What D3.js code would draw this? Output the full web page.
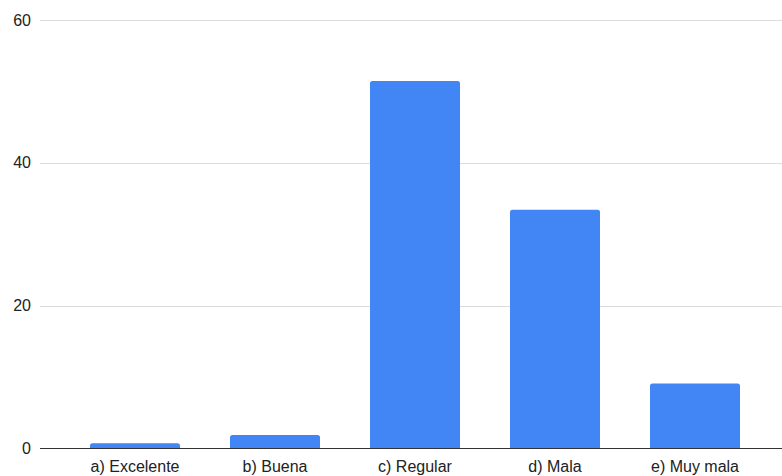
<!DOCTYPE html>
<html>
<head>
<meta charset="utf-8">
<script src="https://cdn.jsdelivr.net/npm/d3@7"></script>
<style>
  html, body { margin: 0; padding: 0; background: #fff; }
  svg { display: block; }
  text { font-family: "Liberation Sans", Arial, sans-serif; }
</style>
</head>
<body>
<svg id="chart" width="782" height="476"></svg>
<script>
const categories = ["a) Excelente", "b) Buena", "c) Regular", "d) Mala", "e) Muy mala"];
const values = [0.7, 1.85, 51.5, 33.45, 9.1];
const yTicks = [0, 20, 40, 60];

const W = 782, H = 476;
const svg = d3.select("#chart");

const x = d3.scaleBand().domain(categories).range([65, 765]).paddingInner(0.357).paddingOuter(0.1785);
const y = d3.scaleLinear().domain([0, 60]).range([448.3, 20.3]);

// gridlines
svg.append("g").selectAll("line").data(yTicks.filter(d => d !== 0)).join("line")
  .attr("x1", 40).attr("x2", W)
  .attr("y1", d => Math.round(y(d)) + 0.5).attr("y2", d => Math.round(y(d)) + 0.5)
  .attr("stroke", "#dcdcdc").attr("stroke-width", 1);

// y labels
svg.append("g").selectAll("text").data(yTicks).join("text")
  .attr("x", 31).attr("y", d => y(d))
  .attr("text-anchor", "end").attr("dominant-baseline", "central")
  .attr("font-size", 16).attr("fill", "#222")
  .text(d => d);

// bars with rounded top corners
const r = 2.5;
svg.append("g").selectAll("path").data(categories).join("path")
  .attr("fill", "#4285F4")
  .attr("d", (c, i) => {
    const x0 = x(c), x1 = x(c) + x.bandwidth();
    const yt = y(values[i]), yb = y(0);
    const rr = Math.min(r, (yb - yt));
    return `M${x0},${yb}V${yt + rr}Q${x0},${yt} ${x0 + rr},${yt}H${x1 - rr}Q${x1},${yt} ${x1},${yt + rr}V${yb}Z`;
  });

// zero line
svg.append("line")
  .attr("x1", 40).attr("x2", W)
  .attr("y1", Math.round(y(0)) + 0.5).attr("y2", Math.round(y(0)) + 0.5)
  .attr("stroke", "#333").attr("stroke-width", 1);

// x labels
svg.append("g").selectAll("text").data(categories).join("text")
  .attr("x", c => x(c) + x.bandwidth() / 2).attr("y", 471.5)
  .attr("text-anchor", "middle").attr("font-size", 16).attr("fill", "#222")
  .text(c => c);
</script>
</body>
</html>
